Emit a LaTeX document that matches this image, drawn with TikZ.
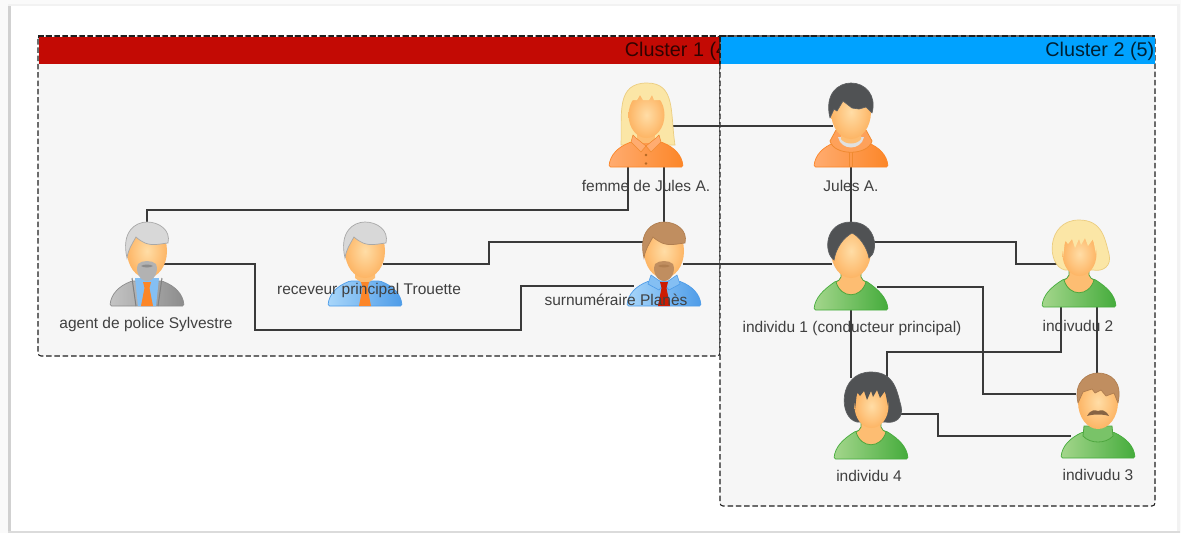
\documentclass[tikz,border=0pt]{standalone}
\usepackage{fontspec}
\setmainfont{Liberation Sans}
\usetikzlibrary{calc}
\definecolor{skinL}{HTML}{FFDDA6}
\definecolor{skinD}{HTML}{FDB565}
\definecolor{skinE}{HTML}{F6B26A}
\definecolor{grnL}{HTML}{A4D68C}
\definecolor{grnD}{HTML}{45AC3C}
\definecolor{grnE}{HTML}{4EA63F}
\definecolor{orgL}{HTML}{FFAC70}
\definecolor{orgD}{HTML}{FC8628}
\definecolor{orgE}{HTML}{F08A30}
\definecolor{bluL}{HTML}{A8D6FA}
\definecolor{bluD}{HTML}{4E9CE8}
\definecolor{gryL}{HTML}{C4C4C4}
\definecolor{gryD}{HTML}{8C8C8C}
\definecolor{hairG}{HTML}{D8D8D8}
\definecolor{hairGe}{HTML}{A8A8A8}
\definecolor{hairD}{HTML}{505254}
\definecolor{hairDe}{HTML}{5E6062}
\definecolor{hairB}{HTML}{C08E60}
\definecolor{hairBe}{HTML}{B07E50}
\definecolor{hairY}{HTML}{FBE6A6}
\definecolor{hairYe}{HTML}{EBCD80}
\definecolor{beardG}{HTML}{B2B2B2}
\definecolor{redH}{HTML}{C30A04}
\definecolor{bluH}{HTML}{00A2FF}
\definecolor{clfill}{HTML}{F6F6F6}
\definecolor{linec}{HTML}{3A3A3A}
\definecolor{txt}{HTML}{404040}
\tikzset{
  personbox/.style={minimum width=74pt,minimum height=84pt,inner sep=0pt,outer sep=0pt},
  lbl/.style={font=\fontsize{15.5}{18}\selectfont,text=txt,inner sep=0pt},
  hdr/.style={font=\fontsize{19.8}{23}\selectfont,inner sep=0pt,anchor=east},
  link/.style={draw=linec,line width=1.1pt,line join=miter},
  cluster/.style={draw=black!88,line width=1.05pt,dash pattern=on 5.5pt off 2.8pt,rounded corners=3pt},
}
% body: light, dark, bottom y
\newcommand{\pbody}[3]{%
  \path[left color=#1,right color=#2,draw=#2,line width=.7pt,rounded corners=1.5pt]
    (-37,#3) .. controls (-36,#3-12) and (-28,#3-20) .. (-15,59) -- (15,59)
    .. controls (28,#3-20) and (36,#3-12) .. (37,#3) -- cycle;}
% neck and head
\newcommand{\pneck}[1]{%
  \path[fill=skinD!80!skinL,draw=#1,line width=.8pt] (-10,48) -- (-10,55) .. controls (-11,58) and (-13,59) .. (-15,60) .. controls (-10,77) and (10,77) .. (15,60) .. controls (13,59) and (11,58) .. (10,55) -- (10,48);}
\newcommand{\phead}[1][20]{%
  \path[inner color=skinL,outer color=skinD] (0,29) ellipse [x radius=#1,y radius=27];}
\newcommand{\ptie}[1]{%
  \path[fill=#1] (-4,60) -- (4,60) -- (2.5,66) -- (6,84) -- (-6,84) -- (-2.5,66) -- cycle;}
\newcommand{\pbeard}[2]{%
  \path[fill=#1] (-9,42) .. controls (-5,38) and (5,38) .. (9,42) .. controls (12,50) and (7,59) .. (0,59) .. controls (-7,59) and (-12,50) .. (-9,42) -- cycle;
  \path[fill=#2] (-6,44) .. controls (-3,42) and (3,42) .. (6,44) .. controls (3,46) and (-3,46) .. (-6,44) -- cycle;}
\newcommand{\pshortcut}[2]{%
  \path[fill=#1,draw=#2,line width=.7pt] (-20,36) .. controls (-26,10) and (-12,0) .. (0,0) .. controls (12,0) and (24,8) .. (21,21) .. controls (12,22) and (6,24) .. (-2,21) .. controls (-6,19) and (-9,17) .. (-11,15) .. controls (-15,22) and (-19,28) .. (-20,36) -- cycle;}
\newcommand{\pbob}[2]{%
  \path[fill=#1,draw=#2,line width=.7pt] (-14,50) .. controls (-33,46) and (-33,0) .. (0,0) .. controls (24,0) and (26,20) .. (30,34) .. controls (33,46) and (24,52) .. (14,50) -- cycle;}
\newcommand{\pskirt}[1]{%
  \path[fill=#1] (-16,38) -- (-18,20) .. controls (-15,3) and (15,3) .. (18,20) -- (17,34) -- (14,19) -- (9,26) -- (6,18) -- (2,25) -- (0,19) -- (-4,28) -- (-7,19) -- (-11,24) -- (-14,20) -- cycle;}
\begin{document}
\begin{tikzpicture}[x=1pt,y=-1pt]
\useasboundingbox (0,0) rectangle (1181,533);
% sheet
\fill[white!98!black] (0,0) rectangle (1181,533);
\fill[black!5] (8,4) rectangle (1180,533);
\fill[black!18] (8,6) rectangle (10.5,533);
\fill[black!14] (8,530.5) rectangle (1180,533);
\fill[white] (10.5,6) rectangle (1177,530.5);
% clusters
\draw[cluster,fill=clfill] (38,36) rectangle (720,356);
\fill[redH] (39,37) rectangle (720,64);
\draw[cluster,rounded corners=0pt] (38,36) -- (720,36);
\node[hdr,text=black!75!redH] (c1label) at (734,51) {Cluster 1 (4)};
\draw[cluster,fill=clfill] (720,36) rectangle (1155,506);
\fill[bluH] (720.5,37) rectangle (1154.5,64);
\draw[cluster,rounded corners=0pt] (720,36) -- (1155,36);
\draw[cluster,rounded corners=0pt] (720,36) -- (720,64);
\node[hdr,text=black!80!bluH] (c2label) at (1154.5,51) {Cluster 2 (5)};
% anchors
\node[personbox] (femme) at (646,125) {};
\node[personbox] (jules) at (851,125) {};
\node[personbox] (agent) at (147,264) {};
\node[personbox] (recev) at (365,264) {};
\node[personbox] (surn)  at (664,264) {};
\node[personbox,minimum height=88pt] (ind1) at (851,266) {};
\node[personbox,minimum height=87pt] (ind2) at (1079,263.5) {};
\node[personbox,minimum height=85pt] (ind3) at (1098,415.5) {};
\node[personbox,minimum height=87pt] (ind4) at (871,415.5) {};
% connectors
\draw[link] ($(femme.north)+(24,43)$) -- ($(jules.north)+(-18,43)$);
\draw[link] (agent.north) -- ++(0,-12) -| ($(femme.south)+(-18,0)$);
\draw[link] ($(femme.south)+(18,0)$) -- (surn.north);
\draw[link] ($(recev.north)+(18,42)$) -- ++(106,0) |- ($(surn.north)+(-20,20)$);
\draw[link] ($(agent.north)+(17,42)$) -- ++(91,0) -- ++(0,66) -- ++(266,0) |- ($(surn.north)+(-30,64)$);
\draw[link] ($(surn.north)+(19,42)$) -- ($(ind1.north)+(-19,42)$);
\draw[link] (jules.south) -- (ind1.north);
\draw[link] ($(ind1.north)+(21,20)$) -- ++(144,0) |- ($(ind2.north)+(-21,44)$);
\draw[link] ($(ind1.north)+(26,65)$) -- ++(106,0) |- ($(ind3.north)+(-22,21)$);
\draw[link] (ind1.south) -- ($(ind4.north)+(-20,6)$);
\draw[link] ($(ind2.south)+(-18,0)$) -- ++(0,45) -| ($(ind4.north)+(16,6)$);
\draw[link] ($(ind2.south)+(18,0)$) -- ($(ind3.north)+(-1,2)$);
\draw[link] ($(ind4.north)+(28,42)$) -- ++(39,0) |- ($(ind3.north)+(-27,63)$);
% femme
\begin{scope}[shift={(femme.north)}]
  \path[fill=hairY,draw=hairYe,line width=.7pt] (-25,62) .. controls (-24,30) and (-30,0) .. (1,0) .. controls (30,0) and (24,30) .. (29,62) -- cycle;
  \pbody{orgL}{orgD}{84}
  \path[fill=skinD!80!skinL] (-9,48) rectangle (9,60);
  \path[inner color=skinL,outer color=skinD] (0.5,32) ellipse [x radius=18,y radius=23];
  \path[fill=hairY] (-18,28) .. controls (-17,2) and (18,2) .. (19,28) -- (17,17) -- (8,17) -- (6,12) -- (3,17) -- (-3,17) -- (-6,12) -- (-9,17) -- (-16,17) -- cycle;
  \path[fill=orgL,draw=orgE,line width=.6pt,line join=round] (-13,52) -- (-15,59) -- (-5,69) -- (0,63) -- (-10,55) -- cycle;
  \path[fill=orgL,draw=orgE,line width=.6pt,line join=round] (13,52) -- (15,59) -- (5,69) -- (0,63) -- (10,55) -- cycle;
  \fill[orgE!75!black] (0,72) circle (1.3) (0,80.5) circle (1.3);
\end{scope}
% jules
\begin{scope}[shift={(jules.north)}]
  \pbody{orgL}{orgD}{84}
  \path[fill=orgL!70!orgD,draw=orgE,line width=.8pt,line join=round] (-15,47) -- (-21,58) .. controls (-17,73) and (17,73) .. (21,58) -- (15,47) -- cycle;
  \path[fill=black!12] (-13,54) .. controls (-10,68) and (10,68) .. (13,54) -- cycle;
  \path[fill=skinD!80!skinL] (-10,46) -- (-10,56) .. controls (-6,62) and (6,62) .. (10,56) -- (10,46) -- cycle;
  \phead
  \path[fill=hairD,draw=hairDe,line width=.7pt,line join=round] (-21,35) .. controls (-27,10) and (-12,0) .. (0,0) .. controls (14,0) and (26,12) .. (21,30) -- (15,24) -- (8,26) -- (1,25) -- (-8,18) -- (-14,28) -- (-17,26) -- cycle;
  \draw[orgE,line width=.7pt] (-1.5,69) -- (-1.5,84) (1.5,69) -- (1.5,84);
\end{scope}
% agent
\begin{scope}[shift={(agent.north)}]
  \pbody{gryL}{gryD}{84}
  \path[fill=bluL!60!bluD] (-12,56) -- (12,56) -- (9,84) -- (-9,84) -- cycle;
  \draw[black!50,line width=1pt] (-15,56) -- (-11,84) (15,56) -- (11,84);
  \ptie{orgD}
  \phead
  \pbeard{beardG}{black!45}
  \pshortcut{hairG}{hairGe}
\end{scope}
% receveur
\begin{scope}[shift={(recev.north)}]
  \pbody{bluL}{bluD}{84}
  \path[fill=skinD!80!skinL] (-10,46) -- (-10,56) -- (0,63) -- (10,56) -- (10,46) -- cycle;
  \ptie{orgD}
  \phead
  \pshortcut{hairG}{hairGe}
\end{scope}
% surnumeraire
\begin{scope}[shift={(surn.north)}]
  \pbody{bluL}{bluD}{84}
  \path[fill=bluL!60!bluD,draw=bluD,line width=.6pt] (-13,53) -- (0,62) -- (13,53) -- (16,62) -- (5,68) -- (0,62) -- (-5,68) -- (-16,62) -- cycle;
  \ptie{redH!85!orange}
  \phead
  \pbeard{hairB}{hairBe}
  \pshortcut{hairB}{hairBe}
\end{scope}
% individu 1
\begin{scope}[shift={(ind1.north)}]
  \pbody{grnL}{grnD}{88}
  \pneck{grnE}
  \phead
  \path[fill=hairD,draw=hairDe,line width=.7pt] (-17,38) .. controls (-28,30) and (-26,0) .. (0,0) .. controls (26,0) and (28,30) .. (18,36) .. controls (16,25) and (8,14) .. (1,11) .. controls (-8,16) and (-15,26) .. (-17,38) -- cycle;
\end{scope}
% individu 2
\begin{scope}[shift={(ind2.north)}]
  \pbob{hairY}{hairYe}
  \pbody{grnL}{grnD}{87}
  \pneck{grnE}
  \path[inner color=skinL,outer color=skinD] (0.5,34) ellipse [x radius=17,y radius=22];
  \pskirt{hairY}
\end{scope}
% individu 3
\begin{scope}[shift={(ind3.north)}]
  \pbody{grnL}{grnD}{85}
  \path[fill=grnL!55!grnD,draw=grnE,line width=.8pt] (-14,53) -- (-15,63) .. controls (-8,71) and (8,71) .. (15,63) -- (14,53) -- cycle;
  \phead
  \path[fill=hairB!70!black] (-11,43) .. controls (-7,36) and (-3,37) .. (0,38) .. controls (3,37) and (7,36) .. (11,43) .. controls (5,41) and (-5,41) .. (-11,43) -- cycle;
  \path[fill=hairB,draw=hairBe,line width=.7pt,line join=round] (-20,30) .. controls (-25,8) and (-10,0) .. (0,0) .. controls (12,0) and (25,8) .. (20,30) -- (16,20) -- (8,23) -- (3,17) -- (-3,20) -- (-6,16) -- (-15,19) -- cycle;
\end{scope}
% individu 4
\begin{scope}[shift={(ind4.north)}]
  \pbob{hairD}{hairDe}
  \pbody{grnL}{grnD}{87}
  \pneck{grnE}
  \path[inner color=skinL,outer color=skinD] (0.5,34) ellipse [x radius=17,y radius=22];
  \pskirt{hairD}
\end{scope}
% labels
\node[lbl] (lagent) at (146,324) {agent de police Sylvestre};
\node[lbl] (lrecev) at (369,290) {receveur principal Trouette};
\node[lbl] (lsurn)  at (616,300) {surnuméraire Planès};
\node[lbl] (lfemme) at (646,186) {femme de Jules A.};
\node[lbl] (ljules) at (851,186) {Jules A.};
\node[lbl] (lind1)  at (852,328) {individu 1 (conducteur principal)};
\node[lbl] (lind2)  at (1078,326) {indivudu 2};
\node[lbl] (lind4)  at (869,476) {individu 4};
\node[lbl] (lind3)  at (1098,475) {indivudu 3};
\end{tikzpicture}
\end{document}
